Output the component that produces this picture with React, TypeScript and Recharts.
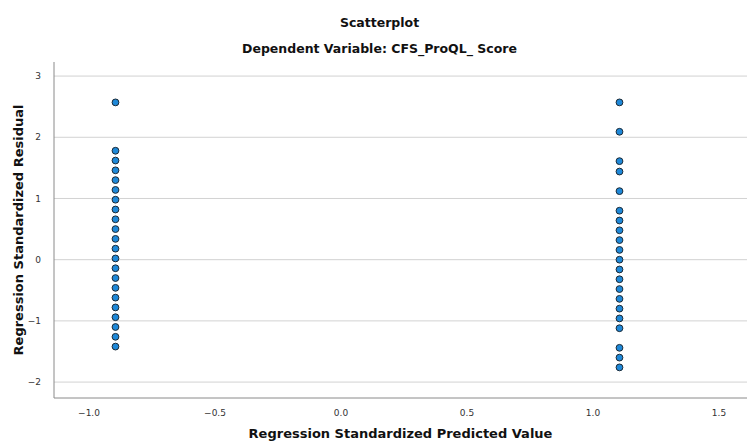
import { ScatterChart, Scatter, XAxis, YAxis, CartesianGrid, Label } from "recharts";

// standardized predicted value for each of the two groups
const groupX = [-0.895, 1.105];

// standardized residuals
const leftResiduals = [
  2.57, 1.78, 1.62, 1.46, 1.3, 1.14, 0.98, 0.82, 0.66, 0.5, 0.34, 0.18, 0.02,
  -0.14, -0.3, -0.46, -0.62, -0.78, -0.94, -1.1, -1.26, -1.42,
];
const rightResiduals = [
  2.57, 2.09, 1.61, 1.44, 1.12, 0.8, 0.64, 0.48, 0.32, 0.16, 0.0, -0.16, -0.32,
  -0.48, -0.64, -0.8, -0.96, -1.12, -1.44, -1.6, -1.76,
];

const xTicks = [-1.0, -0.5, 0.0, 0.5, 1.0, 1.5];
const yTicks = [-2, -1, 0, 1, 2, 3];

const points = [
  ...leftResiduals.map((r) => ({ x: groupX[0], y: r })),
  ...rightResiduals.map((r) => ({ x: groupX[1], y: r })),
];

const fmt = (digits: number) => (v: number) =>
  v.toFixed(digits).replace("-", "\u2212");

const Dot = (props: any) => (
  <circle
    cx={props.cx}
    cy={props.cy}
    r={3.4}
    fill="#1e88d8"
    stroke="#1c2a36"
    strokeWidth={1}
  />
);

const tickStyle = { fontSize: 9, fill: "#333", fontFamily: "DejaVu Sans" };
const titleFont = "'DejaVu Sans', sans-serif";

const titleStyle = {
  position: "absolute" as const,
  width: 747,
  textAlign: "center" as const,
  fontSize: 12.5,
  fontWeight: "bold",
  color: "#111",
  left: 6,
};

export default function App() {
  return (
    <div
      style={{
        position: "absolute",
        left: 0,
        top: 0,
        width: 747,
        height: 442,
        background: "#fff",
        fontFamily: titleFont,
      }}
    >
      <div style={{ ...titleStyle, top: 15 }}>Scatterplot</div>
      <div style={{ ...titleStyle, top: 41 }}>
        Dependent Variable: CFS_ProQL_ Score
      </div>
      <ScatterChart
        width={747}
        height={442}
        margin={{ top: 62, right: 0, bottom: 0, left: 0 }}
      >
        <CartesianGrid
          horizontal
          vertical={false}
          horizontalValues={yTicks}
          stroke="#d2d2d2"
        />
        <XAxis
          type="number"
          dataKey="x"
          domain={[-1.139, 1.611]}
          ticks={xTicks}
          height={44}
          stroke="#8a8a8a"
          tickLine={false}
          tickMargin={6}
          tick={tickStyle}
          tickFormatter={fmt(1)}
          allowDataOverflow
        >
          <Label
            value="Regression Standardized Predicted Value"
            position="insideBottom"
            offset={4}
            style={{
              fontSize: 13,
              fontWeight: "bold",
              fill: "#111",
              fontFamily: titleFont,
            }}
          />
        </XAxis>
        <YAxis
          type="number"
          dataKey="y"
          domain={[-2.26, 3.23]}
          ticks={yTicks}
          width={54}
          stroke="#8a8a8a"
          tickLine={false}
          tickMargin={7}
          tick={tickStyle}
          tickFormatter={fmt(0)}
          allowDataOverflow
        >
          <Label
            value="Regression Standardized Residual"
            angle={-90}
            position="insideLeft"
            offset={18}
            style={{
              textAnchor: "middle",
              fontSize: 13,
              fontWeight: "bold",
              fill: "#111",
              fontFamily: titleFont,
            }}
          />
        </YAxis>
        <Scatter data={points} shape={Dot} isAnimationActive={false} />
      </ScatterChart>
    </div>
  );
}
